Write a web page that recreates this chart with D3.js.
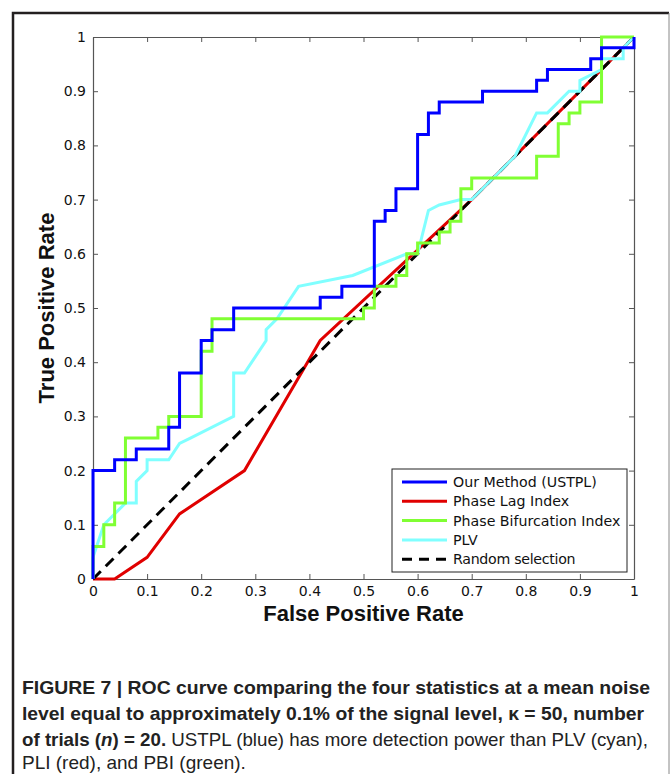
<!DOCTYPE html>
<html lang="en">
<style>
body { margin: 0; background: white; }
.axis path, .axis line { stroke: #555; }
.axis text { font-family: "DejaVu Sans", sans-serif; font-size: 14px; fill: #111; }
.lbl { font-family: "Liberation Sans", Arial, sans-serif; font-weight: bold; font-size: 22px; fill: #111; }
.leg text { font-family: "DejaVu Sans", sans-serif; font-size: 14.2px; fill: #111; }
.cap { font-family: "Liberation Sans Narrow", "Liberation Sans", sans-serif; font-size: 19px; fill: #222; }
</style>
<svg width="671" height="774"></svg>
<script src="https://d3js.org/d3.v7.min.js"></script>
<script>
// ROC points [fpr, tpr]
var ustpl = [[0,0],[0,0.2],[0.04,0.2],[0.04,0.22],[0.08,0.22],[0.08,0.24],[0.14,0.24],[0.14,0.28],
    [0.16,0.28],[0.16,0.38],[0.2,0.38],[0.2,0.44],[0.22,0.44],[0.22,0.46],[0.26,0.46],[0.26,0.5],
    [0.42,0.5],[0.42,0.52],[0.46,0.52],[0.46,0.54],[0.52,0.54],[0.52,0.66],[0.54,0.66],[0.54,0.68],
    [0.56,0.68],[0.56,0.72],[0.6,0.72],[0.6,0.82],[0.62,0.82],[0.62,0.86],[0.64,0.86],[0.64,0.88],
    [0.72,0.88],[0.72,0.9],[0.82,0.9],[0.82,0.92],[0.84,0.92],[0.84,0.94],[0.92,0.94],[0.92,0.96],
    [0.94,0.96],[0.94,0.98],[1,0.98],[1,1]];
var pli = [[0,0],[0.04,0],[0.1,0.04],[0.16,0.12],[0.28,0.2],[0.42,0.44],[0.7,0.7],[1,1]];
var pbi = [[0,0],[0,0.06],[0.02,0.06],[0.02,0.1],[0.04,0.1],[0.04,0.14],[0.06,0.14],[0.06,0.26],
    [0.12,0.26],[0.12,0.28],[0.14,0.28],[0.14,0.3],[0.2,0.3],[0.2,0.42],[0.22,0.42],[0.22,0.48],
    [0.5,0.48],[0.5,0.5],[0.52,0.5],[0.52,0.54],[0.56,0.54],[0.56,0.56],[0.58,0.56],[0.58,0.6],
    [0.6,0.6],[0.6,0.62],[0.64,0.62],[0.64,0.64],[0.66,0.64],[0.66,0.66],[0.68,0.66],[0.68,0.72],
    [0.7,0.72],[0.7,0.74],[0.82,0.74],[0.82,0.78],[0.86,0.78],[0.86,0.84],[0.88,0.84],[0.88,0.86],
    [0.9,0.86],[0.9,0.88],[0.94,0.88],[0.94,1],[1,1]];
var plv = [[0,0],[0,0.04],[0.02,0.1],[0.06,0.14],[0.08,0.14],[0.08,0.18],[0.1,0.2],[0.1,0.22],
    [0.14,0.22],[0.16,0.25],[0.18,0.26],[0.26,0.3],[0.26,0.38],[0.28,0.38],[0.32,0.44],[0.32,0.46],
    [0.34,0.48],[0.38,0.54],[0.48,0.56],[0.58,0.6],[0.6,0.6],[0.62,0.68],[0.64,0.69],[0.68,0.7],
    [0.7,0.7],[0.78,0.78],[0.82,0.86],[0.84,0.86],[0.88,0.9],[0.9,0.9],[0.9,0.92],[0.94,0.94],
    [0.94,0.96],[0.98,0.96],[0.98,0.98],[1,1]];
var randomSel = [[0,0],[1,1]];

var seriesNames = ["Our Method (USTPL)", "Phase Lag Index", "Phase Bifurcation Index", "PLV", "Random selection"];
var seriesColors = ["#0000ff", "#e00000", "#80ff33", "#80ffff", "#000000"];
var xTicks = [0,0.1,0.2,0.3,0.4,0.5,0.6,0.7,0.8,0.9,1];
var yTicks = [0,0.1,0.2,0.3,0.4,0.5,0.6,0.7,0.8,0.9,1];

var svg = d3.select("svg");

// figure frame
svg.append("path").attr("d", "M13,774V13H669").attr("fill", "none")
    .attr("stroke", "#231f20").attr("stroke-width", 2.5);
svg.append("line").attr("x1", 669).attr("x2", 669).attr("y1", 13).attr("y2", 774)
    .attr("stroke", "#888").attr("stroke-width", 1);

var mLeft = 93, mTop = 37, w = 541, h = 542;
var g = svg.append("g").attr("transform", "translate(" + mLeft + "," + mTop + ")");

var x = d3.scaleLinear().domain([0, 1]).range([0, w]);
var y = d3.scaleLinear().domain([0, 1]).range([h, 0]);
var fmt = function(d) { return String(+d.toFixed(1)); };

g.append("g").attr("class", "axis").attr("transform", "translate(0," + h + ")")
    .call(d3.axisBottom(x).tickValues(xTicks).tickFormat(fmt).tickSizeInner(-5).tickSizeOuter(0).tickPadding(7));
g.append("g").attr("class", "axis")
    .call(d3.axisLeft(y).tickValues(yTicks).tickFormat(fmt).tickSizeInner(-5).tickSizeOuter(0).tickPadding(7));
g.append("g").attr("class", "axis")
    .call(d3.axisTop(x).tickValues(xTicks).tickFormat("").tickSizeInner(-5).tickSizeOuter(0));
g.append("g").attr("class", "axis").attr("transform", "translate(" + w + ",0)")
    .call(d3.axisRight(y).tickValues(yTicks).tickFormat("").tickSizeInner(-5).tickSizeOuter(0));
g.selectAll(".axis .domain").attr("stroke-width", 1.2);

var line = d3.line().x(function(d) { return x(d[0]); }).y(function(d) { return y(d[1]); });

// draw order: red, dashed diagonal, cyan, green, blue on top
g.append("path").datum(pli).attr("d", line).attr("fill", "none").attr("stroke", seriesColors[1]).attr("stroke-width", 3);
g.append("path").datum(randomSel).attr("d", line).attr("fill", "none").attr("stroke", seriesColors[4])
    .attr("stroke-width", 3).attr("stroke-dasharray", "11,7");
g.append("path").datum(plv).attr("d", line).attr("fill", "none").attr("stroke", seriesColors[3]).attr("stroke-width", 3);
g.append("path").datum(pbi).attr("d", line).attr("fill", "none").attr("stroke", seriesColors[2]).attr("stroke-width", 3);
g.append("path").datum(ustpl).attr("d", line).attr("fill", "none").attr("stroke", seriesColors[0]).attr("stroke-width", 3);

// legend
var leg = svg.append("g").attr("class", "leg").attr("transform", "translate(392,469)");
leg.append("rect").attr("width", 235).attr("height", 103).attr("fill", "white")
    .attr("stroke", "#222").attr("stroke-width", 1);
seriesNames.forEach(function(name, i) {
    var yy = 13 + i * 19.3;
    leg.append("line").attr("x1", 10).attr("x2", 55).attr("y1", yy).attr("y2", yy)
        .attr("stroke", seriesColors[i]).attr("stroke-width", 3)
        .attr("stroke-dasharray", i === 4 ? "10,7" : null);
    leg.append("text").attr("x", 61).attr("y", yy + 5).text(name)
        .attr("letter-spacing", i === 4 ? "-0.3" : null);
});

// axis labels
svg.append("text").attr("class", "lbl").attr("text-anchor", "middle")
    .attr("x", mLeft + w / 2).attr("y", 621).text("False Positive Rate");
svg.append("text").attr("class", "lbl").attr("text-anchor", "middle")
    .attr("transform", "translate(54," + (mTop + h / 2) + ") rotate(-90)").text("True Positive Rate");

// caption
var cap = svg.append("g").attr("class", "cap");
var t1 = cap.append("text").attr("x", 22).attr("y", 694).attr("textLength", 628).attr("lengthAdjust", "spacingAndGlyphs");
t1.append("tspan").attr("font-weight", "bold").text("FIGURE 7 | ROC curve comparing the four statistics at a mean noise");
var t2 = cap.append("text").attr("x", 22).attr("y", 720).attr("textLength", 622).attr("lengthAdjust", "spacingAndGlyphs");
t2.append("tspan").attr("font-weight", "bold").text("level equal to approximately 0.1% of the signal level, \u03ba = 50, number");
var t3 = cap.append("text").attr("x", 22).attr("y", 746).attr("textLength", 626).attr("lengthAdjust", "spacingAndGlyphs");
t3.append("tspan").attr("font-weight", "bold").text("of trials (");
t3.append("tspan").attr("font-weight", "bold").attr("font-style", "italic").text("n");
t3.append("tspan").attr("font-weight", "bold").text(") = 20.");
t3.append("tspan").text(" USTPL (blue) has more detection power than PLV (cyan),");
cap.append("text").attr("x", 22).attr("y", 769).text("PLI (red), and PBI (green).");
</script>
